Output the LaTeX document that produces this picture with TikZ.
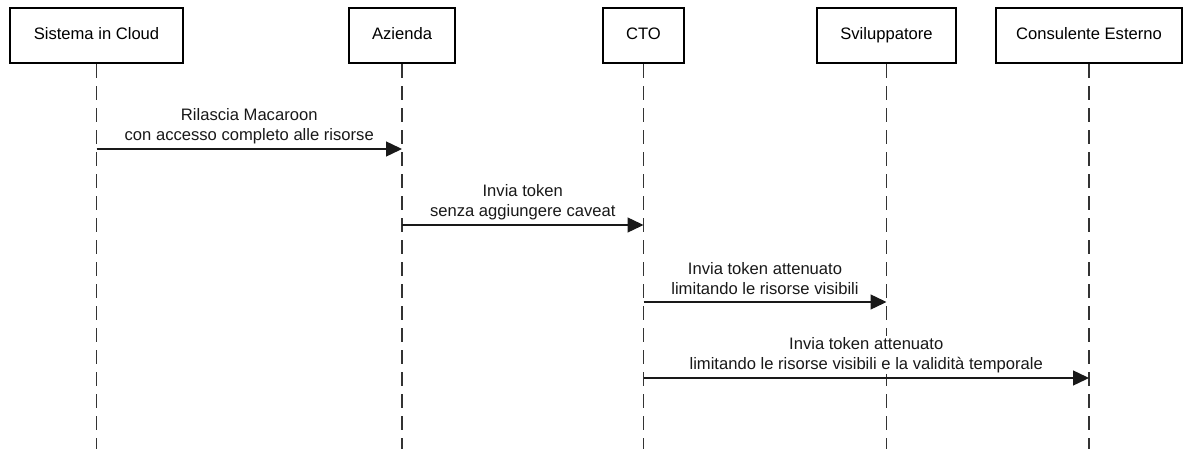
\documentclass[tikz,border=0pt]{standalone}
\usepackage{fontspec}
\setmainfont{Liberation Sans}
\usetikzlibrary{arrows.meta}

\begin{document}
\begin{tikzpicture}[x=1pt,y=-1pt,
  font=\fontsize{16.6}{20}\selectfont,
  actor/.style={draw=black, line width=2.8pt, minimum height=55pt, inner sep=0pt,
                text height=12pt, text depth=3.5pt, fill=white},
  lifeline/.style={draw=black!80, line width=1.6pt, dash pattern=on 14pt off 8pt},
  message/.style={draw=black!90, line width=1.4pt, -{Triangle[length=16pt,width=15pt]}},
  msglabel/.style={align=center, inner sep=1pt, fill=white, text=black!90}]
\useasboundingbox (0,0) rectangle (1183,449);

% lifeline ends
\coordinate (sysE) at (96.5,449);
\coordinate (azE)  at (402,449);
\coordinate (ctoE) at (643.5,449);
\coordinate (devE) at (886.5,449);
\coordinate (extE) at (1089,449);

% participants
\node[actor, minimum width=173pt] (sys) at (96.5,35.5) {Sistema in Cloud};
\node[actor, minimum width=106pt] (az)  at (402,35.5)  {Azienda};
\node[actor, minimum width=81pt]  (cto) at (643.5,35.5) {CTO};
\node[actor, minimum width=139pt] (dev) at (886.5,35.5) {Sviluppatore};
\node[actor, minimum width=186pt] (ext) at (1089,35.5) {Consulente Esterno};

\draw[lifeline] (sys.south) -- (sysE);
\draw[lifeline] (az.south)  -- (azE);
\draw[lifeline] (cto.south) -- (ctoE);
\draw[lifeline] (dev.south) -- (devE);
\draw[lifeline] (ext.south) -- (extE);

% message anchor points on the lifelines
\coordinate (m1a) at (96.5,149);  \coordinate (m1b) at (402,149);
\coordinate (m2a) at (402,225);   \coordinate (m2b) at (643.5,225);
\coordinate (m3a) at (643.5,302); \coordinate (m3b) at (886.5,302);
\coordinate (m4a) at (643.5,378); \coordinate (m4b) at (1089,378);

% message labels (white backing hides the lifelines behind the text)
\node[msglabel] (l1) at (249.25,126) {Rilascia Macaroon\\con accesso completo alle risorse};
\node[msglabel] (l2) at (522.75,202) {Invia token\\senza aggiungere caveat};
\node[msglabel] (l3) at (765,279) {Invia token attenuato\\limitando le risorse visibili};
\node[msglabel] (l4) at (866.25,355) {Invia token attenuato\\limitando le risorse visibili e la validità temporale};

% messages
\draw[message] (m1a) -- (m1b);
\draw[message] (m2a) -- (m2b);
\draw[message] (m3a) -- (m3b);
\draw[message] (m4a) -- (m4b);
\end{tikzpicture}
\end{document}
